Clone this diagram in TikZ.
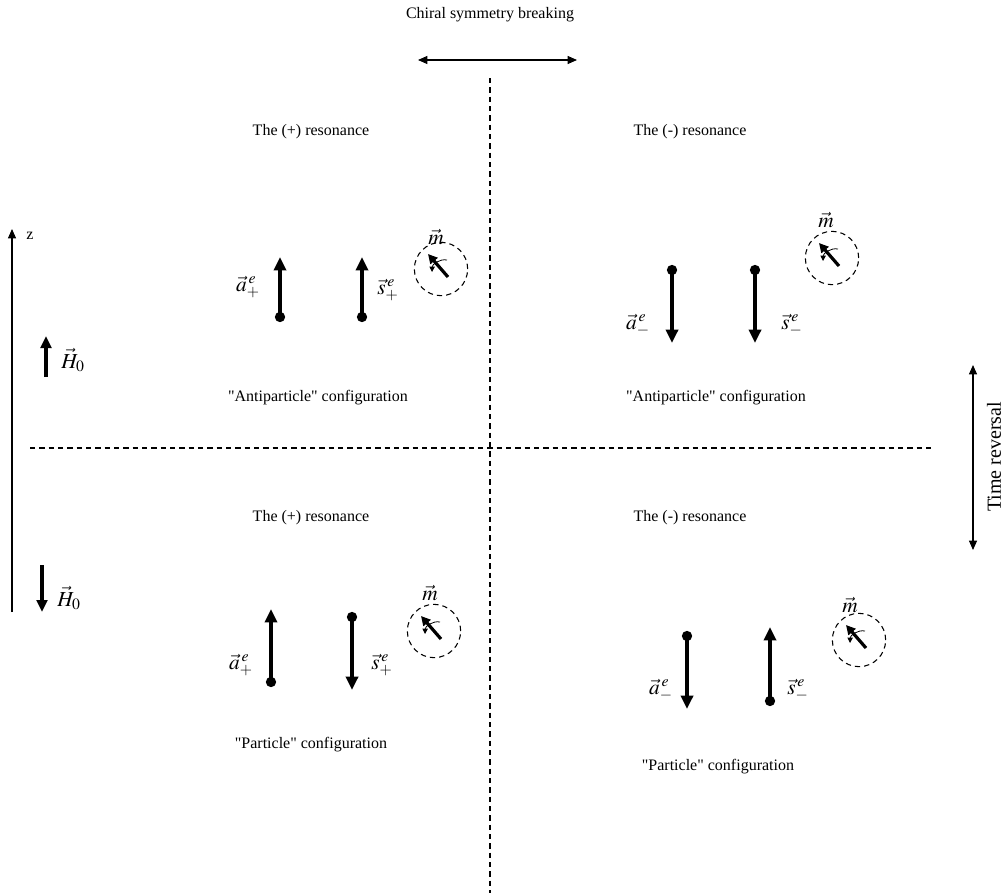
\documentclass[tikz,border=0pt]{standalone}
\usepackage{mathptmx}
\usepackage{fontspec}
\setmainfont{Liberation Serif}
\usetikzlibrary{arrows.meta}

\begin{document}
\begin{tikzpicture}[x=0.75pt,y=-0.75pt,
    every node/.style={font=\fontsize{12}{14}\selectfont},
    lbl/.style={font=\fontsize{16}{18}\selectfont,inner sep=1pt},
    vec/.style={line width=3pt,{Circle[length=7.5pt]}-{Triangle[length=10pt,width=9pt]}},
    fld/.style={line width=2.6pt,-{Triangle[length=9pt,width=8pt]}},
    ax/.style={line width=0.8pt,{Triangle[length=7pt,width=6pt]}-{Triangle[length=7pt,width=6pt]}},
    sep/.style={line width=0.8pt,dash pattern=on 4pt off 3pt},
    spin/.style={circle,draw,line width=0.8pt,dash pattern=on 4pt off 3pt,minimum size=40pt,inner sep=0pt},
    mom/.style={line width=2.4pt,-{Triangle[length=7pt,width=7pt]}},
    prec/.style={line width=0.6pt,-{Triangle[length=4pt,width=4pt]}}]
  \useasboundingbox (0,0) rectangle (1007,893);

  % symmetry axes
  \draw (490,15) node (chi) {Chiral symmetry breaking};
  \coordinate (chil) at (418,60);
  \coordinate (chir) at (577,60);
  \draw[ax] (chil) -- (chir);
  \coordinate (vtop) at (490,78);
  \coordinate (vbot) at (490,893);
  \draw[sep] (vtop) -- (vbot);
  \coordinate (hl) at (30,448);
  \coordinate (hr) at (935,448);
  \draw[sep] (hl) -- (hr);
  \coordinate (tr0) at (973,365);
  \coordinate (tr1) at (973,550);
  \draw[ax] (tr0) -- (tr1);
  \draw (994,457) node[rotate=90,font=\fontsize{15}{17}\selectfont] (trl) {Time reversal};

  % z axis and field
  \coordinate (z0) at (12,612);
  \coordinate (z1) at (12,229);
  \draw[line width=0.8pt,-{Triangle[length=7pt,width=6pt]}] (z0) -- (z1);
  \draw (30,236) node (zl) {z};
  \coordinate (hu0) at (46,377);
  \coordinate (hu1) at (46,336);
  \draw[fld] (hu0) -- (hu1);
  \draw (73,360) node[lbl] (hul) {$\vec{H}_0$};
  \coordinate (hd0) at (42,565);
  \coordinate (hd1) at (42,612);
  \draw[fld] (hd0) -- (hd1);
  \draw (69,598) node[lbl] (hdl) {$\vec{H}_0$};

  % top left
  \draw (311,132) node (r00) {The (+) resonance};
  \draw (441,269) node[spin] (m00) {};
  \draw (436,237) node[lbl] (ml00) {$\vec{m}$};
  \draw[mom] ([shift={(7,8)}]m00.center) -- ([shift={(-13,-15)}]m00.center);
  \draw[prec] ([shift={(6,-9)}]m00.center) to[bend right=50] ([shift={(-9,3)}]m00.center);
  \coordinate (a00s) at (280,322);
  \coordinate (a00t) at (280,257);
  \draw[vec] (a00s) -- (a00t);
  \draw (248,287) node[lbl] (al00) {$\vec{a}^{\,e}_{+}$};
  \coordinate (s00s) at (362,322);
  \coordinate (s00t) at (362,257);
  \draw[vec] (s00s) -- (s00t);
  \draw (388,290) node[lbl] (sl00) {$\vec{s}^{\,e}_{+}$};
  \draw (318,398) node (c00) {\textquotedbl Antiparticle\textquotedbl{} configuration};

  % top right
  \draw (690,132) node (r10) {The (-) resonance};
  \draw (832,258) node[spin] (m10) {};
  \draw (826,220) node[lbl] (ml10) {$\vec{m}$};
  \draw[mom] ([shift={(7,8)}]m10.center) -- ([shift={(-13,-15)}]m10.center);
  \draw[prec] ([shift={(6,-9)}]m10.center) to[bend right=50] ([shift={(-9,3)}]m10.center);
  \coordinate (a10s) at (672,265);
  \coordinate (a10t) at (672,343);
  \draw[vec] (a10s) -- (a10t);
  \draw (638,325) node[lbl] (al10) {$\vec{a}^{\,e}_{-}$};
  \coordinate (s10s) at (755,265);
  \coordinate (s10t) at (755,343);
  \draw[vec] (s10s) -- (s10t);
  \draw (792,325) node[lbl] (sl10) {$\vec{s}^{\,e}_{-}$};
  \draw (716,398) node (c10) {\textquotedbl Antiparticle\textquotedbl{} configuration};

  % bottom left
  \draw (311,518) node (r01) {The (+) resonance};
  \draw (434,631) node[spin] (m01) {};
  \draw (430,593) node[lbl] (ml01) {$\vec{m}$};
  \draw[mom] ([shift={(7,8)}]m01.center) -- ([shift={(-13,-15)}]m01.center);
  \draw[prec] ([shift={(6,-9)}]m01.center) to[bend right=50] ([shift={(-9,3)}]m01.center);
  \coordinate (a01s) at (271,687);
  \coordinate (a01t) at (271,609);
  \draw[vec] (a01s) -- (a01t);
  \draw (241,665) node[lbl] (al01) {$\vec{a}^{\,e}_{+}$};
  \coordinate (s01s) at (352,612);
  \coordinate (s01t) at (352,690);
  \draw[vec] (s01s) -- (s01t);
  \draw (382,665) node[lbl] (sl01) {$\vec{s}^{\,e}_{+}$};
  \draw (311,745) node (c01) {\textquotedbl Particle\textquotedbl{} configuration};

  % bottom right
  \draw (690,518) node (r11) {The (-) resonance};
  \draw (859,640) node[spin] (m11) {};
  \draw (850,605) node[lbl] (ml11) {$\vec{m}$};
  \draw[mom] ([shift={(7,8)}]m11.center) -- ([shift={(-13,-15)}]m11.center);
  \draw[prec] ([shift={(6,-9)}]m11.center) to[bend right=50] ([shift={(-9,3)}]m11.center);
  \coordinate (a11s) at (687,631);
  \coordinate (a11t) at (687,709);
  \draw[vec] (a11s) -- (a11t);
  \draw (661,690) node[lbl] (al11) {$\vec{a}^{\,e}_{-}$};
  \coordinate (s11s) at (770,706);
  \coordinate (s11t) at (770,627);
  \draw[vec] (s11s) -- (s11t);
  \draw (798,690) node[lbl] (sl11) {$\vec{s}^{\,e}_{-}$};
  \draw (718,767) node (c11) {\textquotedbl Particle\textquotedbl{} configuration};
\end{tikzpicture}
\end{document}
